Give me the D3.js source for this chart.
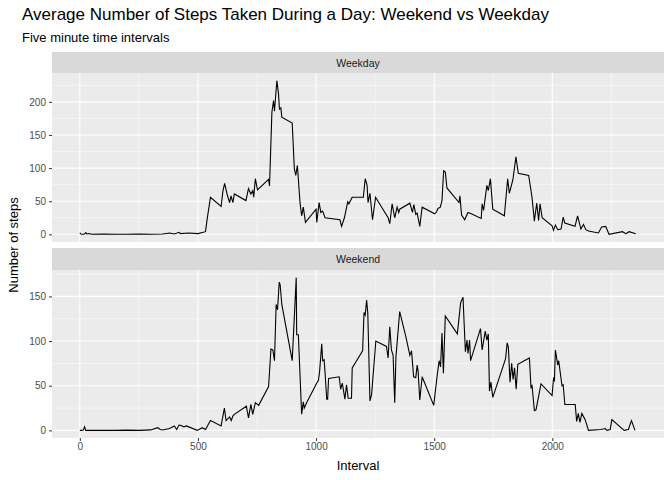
<!DOCTYPE html>
<html><head><meta charset="utf-8">
<script src="https://cdn.jsdelivr.net/npm/d3@7"></script>
<style>body{margin:0;background:#fff}text{font-family:"Liberation Sans",Arial,sans-serif}</style>
</head><body><svg id="c" width="672" height="480"></svg>
<script>
const panels = ["Weekday","Weekend"];
const weekdayInterval = [0,5,10,15,20,25,30,40,50,100,150,200,250,300,350,380,400,420,426,460,500,532,539,553,598,606,613,623,634,640,648,654,703,714,724,732,736,743,752,799,803,813,820,824,834,841,845,851,855,899,908,914,921,932,939,946,955,1000,1003,1013,1020,1028,1038,1101,1108,1120,1134,1139,1153,1200,1208,1216,1220,1228,1239,1252,1305,1312,1322,1333,1343,1350,1354,1397,1408,1414,1422,1428,1439,1449,1502,1510,1516,1526,1533,1540,1547,1554,1605,1609,1616,1629,1643,1657,1699,1703,1709,1723,1729,1738,1748,1797,1811,1818,1833,1846,1856,1900,1914,1924,1934,1942,1948,1957,1999,2005,2013,2023,2037,2046,2053,2096,2107,2121,2132,2142,2153,2195,2209,2226,2240,2297,2311,2325,2353];
const weekdayValue = [2.3,0.4,0.2,0.2,0.4,2.5,0.5,1.2,0.2,0.3,0.2,0.1,0.3,0.1,0.5,2,0.6,3,1,2,1,4,23,56,42,66,77,61,48,58,48,61,51,69,61,66,56,84,67,83,73,184,202,186,232,212,189,191,177,168,99,89,104,48,28,41,18,38,18,48,33,35,25,22,12,25,49,46,56,56,84,74,48,62,22,56,25,16,46,25,41,33,38,47,33,45,30,32,12,41,31,34,39,41,51,96,94,70,48,58,29,22,33,31,24,46,36,74,66,84,38,28,84,62,82,117,92,89,56,20,47,21,46,25,13,6,14,7,8,26,17,12,28,8,15,7,5,2,11,12,0,4,1,4,1];
const weekendInterval = [0,5,10,15,20,25,30,50,100,150,200,250,300,330,340,350,380,400,410,420,426,440,451,497,518,532,553,598,612,619,634,641,648,654,705,714,724,732,743,757,799,809,817,824,831,837,844,848,855,899,916,918,925,939,946,950,960,1003,1010,1015,1024,1028,1034,1038,1045,1049,1053,1098,1104,1111,1122,1129,1136,1150,1153,1197,1203,1208,1214,1219,1228,1235,1253,1298,1305,1312,1319,1326,1333,1338,1354,1380,1397,1404,1413,1422,1428,1432,1439,1449,1498,1512,1521,1527,1533,1539,1547,1598,1612,1622,1632,1639,1643,1650,1654,1696,1703,1716,1723,1729,1734,1740,1748,1802,1809,1814,1821,1828,1834,1840,1847,1854,1903,1910,1914,1924,1931,1952,1999,2005,2009,2013,2023,2027,2041,2046,2053,2097,2103,2110,2117,2125,2139,2145,2153,2205,2224,2231,2245,2252,2304,2322,2335,2350];
const weekendValue = [0,0,0,0.5,4,0,0,0,0.2,0,0.3,0,0.5,3,1,0.5,2,5,1,6,5.7,4,5,0,3,1,11,5,25,11,15,11,16,18,27,14,29,18,31,28,49,91,90,78,141,135,166,163,141,78,171,107,107,18,32,25,31,53,56,66,97,78,79,65,35,35,58,60,46,53,35,51,36,36,70,89,132,129,146,131,33,40,100,94,81,116,90,84,31,82,133,105,84,89,60,59,73,66,34,60,28,60,78,71,109,64,128,108,143,149,88,101,86,101,78,114,90,111,101,108,44,54,37,80,98,93,54,75,57,70,46,74,81,47,51,22,23,52,39,58,56,90,73,78,50,51,29,29,10,19,9,19,12,7,0,1,2,0,1,12,0,1,11,0];
const xTicks = [0,500,1000,1500,2000];
const yTicksTop = [0,50,100,150,200];
const yTicksBottom = [0,50,100,150];

const svg = d3.select("#c");
const L=52,R=664;
const x = d3.scaleLinear().domain([-117.75,2472.75]).range([L,R]);
const data = [
  {name:panels[0], xs:weekdayInterval, ys:weekdayValue, strip:[52,73], plot:[73,242], dom:[-11.6,243.6], ticks:yTicksTop},
  {name:panels[1], xs:weekendInterval, ys:weekendValue, strip:[248,270], plot:[270,438], dom:[-8.55,179.55], ticks:yTicksBottom}
];
svg.append("text").attr("x",22).attr("y",20).attr("font-size",17).attr("fill","#000").text("Average Number of Steps Taken During a Day: Weekend vs Weekday");
svg.append("text").attr("x",22).attr("y",42).attr("font-size",13).attr("fill","#000").text("Five minute time intervals");
data.forEach((p,i)=>{
  const y=d3.scaleLinear().domain(p.dom).range([p.plot[1],p.plot[0]]);
  svg.append("rect").attr("x",L).attr("y",p.strip[0]).attr("width",R-L).attr("height",p.strip[1]-p.strip[0]).attr("fill","#D9D9D9");
  svg.append("text").attr("x",(L+R)/2).attr("y",(p.strip[0]+p.strip[1])/2+4).attr("text-anchor","middle").attr("font-size",10.5).attr("fill","#1A1A1A").text(p.name);
  svg.append("rect").attr("x",L).attr("y",p.plot[0]).attr("width",R-L).attr("height",p.plot[1]-p.plot[0]).attr("fill","#EBEBEB");
  const g=svg.append("g");
  const minorY=p.ticks.map(t=>t+25).filter(v=>v<p.dom[1]);
  minorY.forEach(v=>g.append("line").attr("x1",L).attr("x2",R).attr("y1",y(v)).attr("y2",y(v)).attr("stroke","#fff").attr("stroke-width",0.5));
  [250,750,1250,1750,2250].forEach(v=>g.append("line").attr("x1",x(v)).attr("x2",x(v)).attr("y1",p.plot[0]).attr("y2",p.plot[1]).attr("stroke","#fff").attr("stroke-width",0.5));
  p.ticks.forEach(v=>g.append("line").attr("x1",L).attr("x2",R).attr("y1",y(v)).attr("y2",y(v)).attr("stroke","#fff").attr("stroke-width",1.1));
  xTicks.forEach(v=>g.append("line").attr("x1",x(v)).attr("x2",x(v)).attr("y1",p.plot[0]).attr("y2",p.plot[1]).attr("stroke","#fff").attr("stroke-width",1.1));
  const ya=svg.append("g").attr("transform",`translate(${L},0)`).call(d3.axisLeft(y).tickValues(p.ticks).tickFormat(d3.format("d")).tickSize(3).tickPadding(3));
  ya.select(".domain").remove();
  ya.selectAll("line").attr("stroke","#333");
  ya.selectAll("text").attr("font-size",10).attr("fill","#4D4D4D").style("font-family","Liberation Sans, Arial");
  const pts=p.xs.map((v,k)=>[v,p.ys[k]]);
  svg.append("path").datum(pts).attr("d",d3.line().x(d=>x(d[0])).y(d=>y(d[1]))).attr("fill","none").attr("stroke","#000").attr("stroke-width",1.1);
  if(i===1){
    const xa=svg.append("g").attr("transform",`translate(0,${p.plot[1]})`).call(d3.axisBottom(x).tickValues(xTicks).tickFormat(d3.format("d")).tickSize(3).tickPadding(2));
    xa.select(".domain").remove();
    xa.selectAll("line").attr("stroke","#333");
    xa.selectAll("text").attr("font-size",10).attr("fill","#4D4D4D").style("font-family","Liberation Sans, Arial");
  }
});
svg.append("text").attr("x",(L+R)/2).attr("y",470).attr("text-anchor","middle").attr("font-size",13).text("Interval");
svg.append("text").attr("transform","translate(18,245) rotate(-90)").attr("text-anchor","middle").attr("font-size",13).text("Number of steps");
</script></body></html>
